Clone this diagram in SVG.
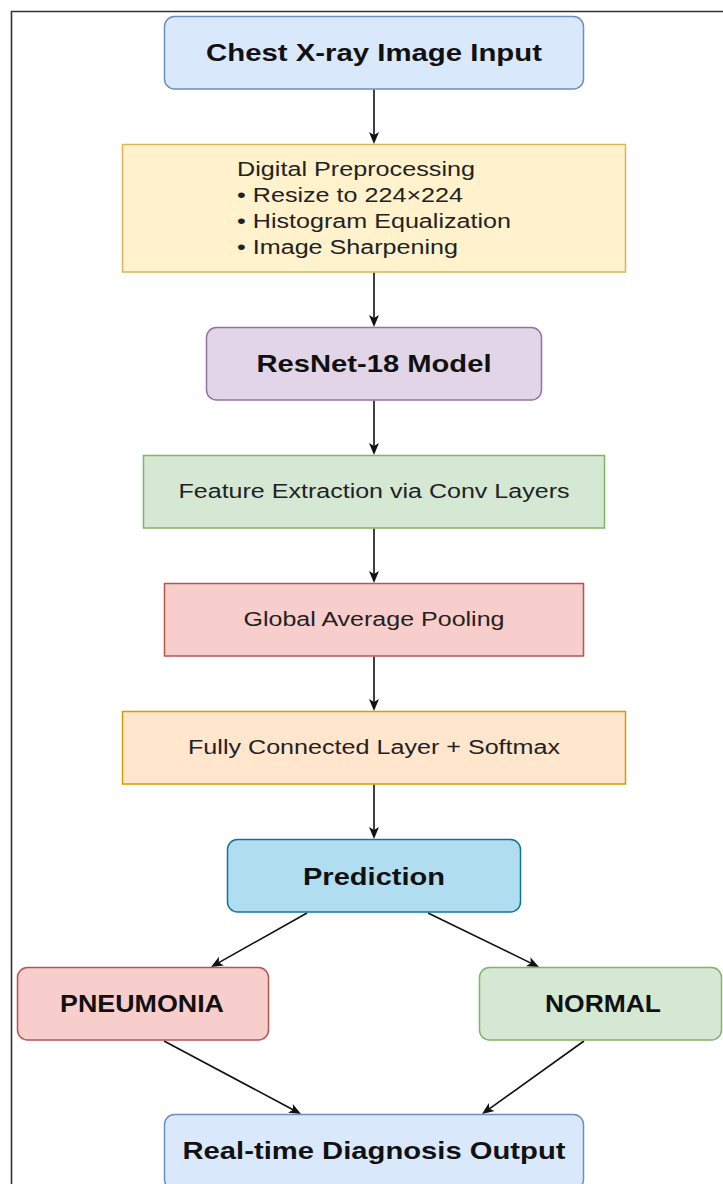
<svg xmlns="http://www.w3.org/2000/svg" width="723" height="1184" viewBox="0 0 723 1184">
<style>
.b{font-family:"Liberation Sans",Arial,sans-serif;font-size:24px;font-weight:bold;fill:#111;text-anchor:middle}
.r{font-family:"Liberation Sans",Arial,sans-serif;font-size:20px;fill:#222;text-anchor:middle}
.l{font-family:"Liberation Sans",Arial,sans-serif;font-size:20px;fill:#222}
.c{stroke:#111;stroke-width:1.6;fill:none;marker-end:url(#ah)}
.s{stroke-width:1.5}
</style>
<defs>
<marker id="ah" markerUnits="userSpaceOnUse" markerWidth="12" markerHeight="10" refX="3" refY="5" orient="auto" overflow="visible">
<path d="M0,0 L12,5 L0,10 L3,5 Z" fill="#111"/>
</marker>
</defs>
<rect width="723" height="1184" fill="#fff"/>
<path d="M11.5,1184 V11.5 H723" fill="none" stroke="#333" stroke-width="1.6"/>
<g id="connectors">
<line class="c" x1="374" y1="89.5" x2="374" y2="135"/>
<line class="c" x1="374" y1="272.5" x2="374" y2="318"/>
<line class="c" x1="374" y1="400.5" x2="374" y2="446"/>
<line class="c" x1="374" y1="528.5" x2="374" y2="574"/>
<line class="c" x1="374" y1="656.5" x2="374" y2="702"/>
<line class="c" x1="374" y1="784.5" x2="374" y2="830"/>
<line class="c" x1="307" y1="913" x2="218.8" y2="962.6"/>
<line class="c" x1="428" y1="913" x2="530.9" y2="963.1"/>
<line class="c" x1="164" y1="1041" x2="293.1" y2="1109.8"/>
<line class="c" x1="584" y1="1041" x2="489.3" y2="1108.8"/>
</g>
<g id="n1"><rect class="s" x="164.5" y="16.5" width="419" height="72.5" rx="10" fill="#dae8fc" stroke="#6c8ebf"/><text class="b" x="374" y="61" textLength="336" lengthAdjust="spacingAndGlyphs">Chest X-ray Image Input</text></g>
<g id="n2"><rect class="s" x="122.5" y="144.5" width="503" height="127.5" fill="#fff2cc" stroke="#d6b656"/>
<text class="l" x="237" y="176" textLength="238" lengthAdjust="spacingAndGlyphs">Digital Preprocessing</text>
<text class="l" x="237" y="202" textLength="226" lengthAdjust="spacingAndGlyphs">• Resize to 224×224</text>
<text class="l" x="237" y="228" textLength="274" lengthAdjust="spacingAndGlyphs">• Histogram Equalization</text>
<text class="l" x="237" y="254" textLength="221" lengthAdjust="spacingAndGlyphs">• Image Sharpening</text></g>
<g id="n3"><rect class="s" x="206.5" y="327.5" width="335" height="72.5" rx="10" fill="#e1d5e7" stroke="#9673a6"/><text class="b" x="374" y="371.5" textLength="235" lengthAdjust="spacingAndGlyphs">ResNet-18 Model</text></g>
<g id="n4"><rect class="s" x="143.5" y="455.5" width="461" height="72.5" fill="#d5e8d4" stroke="#82b366"/><text class="r" x="374" y="498" textLength="391" lengthAdjust="spacingAndGlyphs">Feature Extraction via Conv Layers</text></g>
<g id="n5"><rect class="s" x="164.5" y="583.5" width="419" height="72.5" fill="#f8cecc" stroke="#b85450"/><text class="r" x="374" y="626" textLength="261" lengthAdjust="spacingAndGlyphs">Global Average Pooling</text></g>
<g id="n6"><rect class="s" x="122.5" y="711.5" width="503" height="72.5" fill="#ffe6cc" stroke="#d79b00"/><text class="r" x="374" y="754" textLength="372" lengthAdjust="spacingAndGlyphs">Fully Connected Layer + Softmax</text></g>
<g id="n7"><rect class="s" x="227.5" y="839.5" width="293" height="72.5" rx="10" fill="#b1ddf0" stroke="#10739e"/><text class="b" x="374" y="884.5" textLength="142" lengthAdjust="spacingAndGlyphs">Prediction</text></g>
<g id="n8"><rect class="s" x="17.5" y="967.5" width="251" height="72.5" rx="10" fill="#f8cecc" stroke="#b85450"/><text class="b" x="142" y="1011.5" textLength="164" lengthAdjust="spacingAndGlyphs">PNEUMONIA</text></g>
<g id="n9"><rect class="s" x="479.5" y="967.5" width="242" height="72.5" rx="10" fill="#d5e8d4" stroke="#82b366"/><text class="b" x="603" y="1011.5" textLength="116" lengthAdjust="spacingAndGlyphs">NORMAL</text></g>
<g id="n10"><rect class="s" x="164.5" y="1114.5" width="419" height="75" rx="10" fill="#dae8fc" stroke="#6c8ebf"/><text class="b" x="374" y="1158.5" textLength="383" lengthAdjust="spacingAndGlyphs">Real-time Diagnosis Output</text></g>
</svg>
